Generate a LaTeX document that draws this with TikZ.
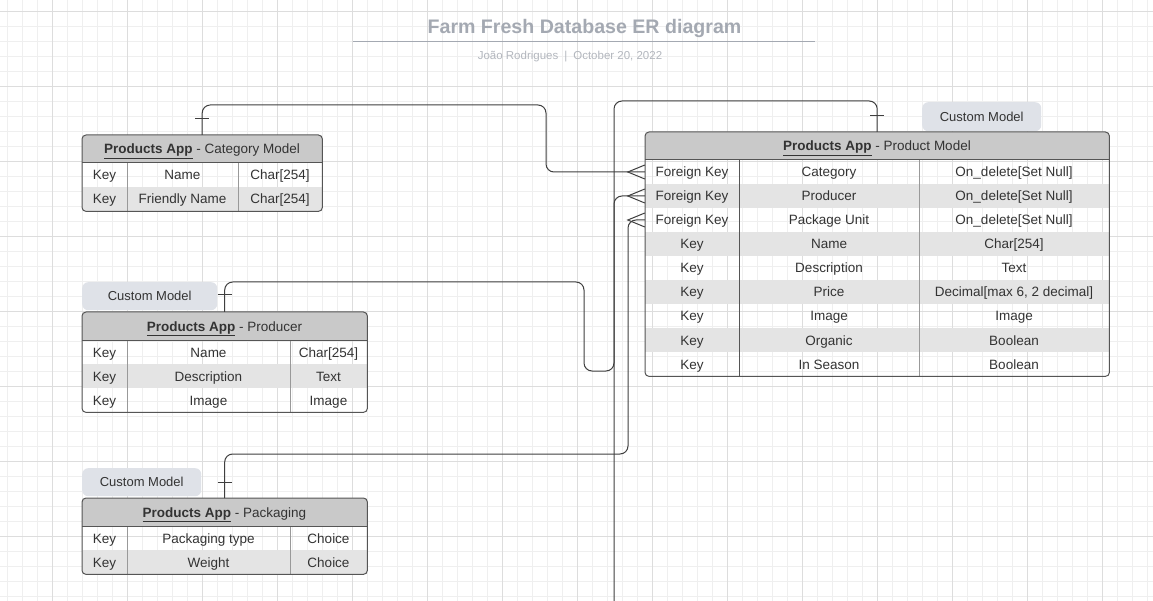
\documentclass[tikz,border=0pt]{standalone}
\usepackage{fontspec}
\setmainfont{Liberation Sans}
\definecolor{gridminor}{HTML}{EFEFEF}
\definecolor{gridmajor}{HTML}{DDDDDD}
\definecolor{titlegray}{HTML}{A4A9B2}
\definecolor{subgray}{HTML}{B3B7BE}
\definecolor{headfill}{HTML}{C9C9C9}
\definecolor{rowfill}{HTML}{E4E4E4}
\definecolor{tagfill}{HTML}{DFE2E8}
\definecolor{edge}{HTML}{555555}
\definecolor{colgray}{HTML}{999999}
\definecolor{txt}{HTML}{333333}
\definecolor{wire}{HTML}{3F3F3F}
\begin{document}
\begin{tikzpicture}[x=1pt,y=-1pt,
    cell/.style={text=txt,inner sep=0pt,text height=10pt,text depth=0pt,
      font=\fontsize{13.5}{16}\selectfont},
    tablebox/.style={inner sep=0pt,anchor=north west},
    border/.style={draw=edge,line width=1pt,rounded corners=4},
    colline/.style={draw=colgray,line width=1pt},
    headline/.style={draw=edge,line width=1pt},
    tag/.style={fill=tagfill,rounded corners=6,text=txt,inner sep=0pt,
      anchor=north west,minimum height=28,font=\fontsize{13}{15}\selectfont},
    conn/.style={draw=wire,line width=1pt},
    elbow/.style={conn,rounded corners=8}]
  % Fondo y cuadricula
  \fill[white] (0,0) rectangle (1153,601);
  \useasboundingbox (0,0) rectangle (1153,601);
  \foreach \x in {7,22,...,1153} \draw[gridminor] (\x,0) -- (\x,601);
  \foreach \y in {11,26,...,601} \draw[gridminor] (0,\y) -- (1153,\y);
  \foreach \x in {52,127,...,1153} \draw[gridmajor] (\x,0) -- (\x,601);
  \foreach \y in {11,86,...,601} \draw[gridmajor] (0,\y) -- (1153,\y);

  % Titulo
  \node[anchor=base,text=titlegray,font=\bfseries\fontsize{19.6}{24}\selectfont] (title) at (584.5,34) {Farm Fresh Database ER diagram};
  \draw[titlegray,line width=1.5pt] (353,41.5) -- (815,41.5);
  \node[anchor=base,text=subgray,font=\fontsize{11.5}{14}\selectfont] (subtitle) at (570,60) {João Rodrigues\hspace{6pt}|\hspace{6pt}October 20, 2022};

  % Etiquetas
  \node[tag,minimum width=135] (tag-producer) at (82,282) {Custom Model};
  \node[tag,minimum width=119] (tag-pack) at (82,468) {Custom Model};
  \node[tag,minimum width=119,minimum height=29] (tag-product) at (922,102) {Custom Model};

  % Category Model
  \node[tablebox,minimum width=240,minimum height=76] (cat) at (82,135) {};
  \begin{scope}
    \clip[rounded corners=4] (cat.north west) rectangle (cat.south east);
    \fill[headfill] (82,135) rectangle (322,163);
    \fill[rowfill] (82,187) rectangle (322,211);
  \end{scope}
  \draw[colline] (127,163) -- (127,211) (238,163) -- (238,211);
  \draw[headline] (82,163) -- (322,163);
  \draw[border] (cat.north west) rectangle (cat.south east);
  \node[cell] (cat-h) at (202,149) {\underline{\textbf{Products App}} - Category Model};
  \node[cell] (cat-k1) at (104.5,175) {Key};
  \node[cell] (cat-f1) at (182.5,175) {Name};
  \node[cell] (cat-t1) at (280,175) {Char[254]};
  \node[cell] (cat-k2) at (104.5,199) {Key};
  \node[cell] (cat-f2) at (182.5,199) {Friendly Name};
  \node[cell] (cat-t2) at (280,199) {Char[254]};

  % Producer
  \node[tablebox,minimum width=285,minimum height=100] (producer) at (82,312) {};
  \begin{scope}
    \clip[rounded corners=4] (producer.north west) rectangle (producer.south east);
    \fill[headfill] (82,312) rectangle (367,340);
    \fill[rowfill] (82,364) rectangle (367,388);
  \end{scope}
  \draw[colline] (127,340) -- (127,412) (290,340) -- (290,412);
  \draw[headline] (82,340) -- (367,340);
  \draw[border] (producer.north west) rectangle (producer.south east);
  \node[cell] (producer-h) at (224.5,326) {\underline{\textbf{Products App}} - Producer};
  \node[cell] (producer-k1) at (104.5,352) {Key};
  \node[cell] (producer-f1) at (208.5,352) {Name};
  \node[cell] (producer-t1) at (328.5,352) {Char[254]};
  \node[cell] (producer-k2) at (104.5,376) {Key};
  \node[cell] (producer-f2) at (208.5,376) {Description};
  \node[cell] (producer-t2) at (328.5,376) {Text};
  \node[cell] (producer-k3) at (104.5,400) {Key};
  \node[cell] (producer-f3) at (208.5,400) {Image};
  \node[cell] (producer-t3) at (328.5,400) {Image};

  % Packaging
  \node[tablebox,minimum width=285,minimum height=76] (pack) at (82,498) {};
  \begin{scope}
    \clip[rounded corners=4] (pack.north west) rectangle (pack.south east);
    \fill[headfill] (82,498) rectangle (367,526);
    \fill[rowfill] (82,550) rectangle (367,574);
  \end{scope}
  \draw[colline] (127,526) -- (127,574) (290,526) -- (290,574);
  \draw[headline] (82,526) -- (367,526);
  \draw[border] (pack.north west) rectangle (pack.south east);
  \node[cell] (pack-h) at (224.5,512) {\underline{\textbf{Products App}} - Packaging};
  \node[cell] (pack-k1) at (104.5,538) {Key};
  \node[cell] (pack-f1) at (208.5,538) {Packaging type};
  \node[cell] (pack-t1) at (328.5,538) {Choice};
  \node[cell] (pack-k2) at (104.5,562) {Key};
  \node[cell] (pack-f2) at (208.5,562) {Weight};
  \node[cell] (pack-t2) at (328.5,562) {Choice};

  % Product Model
  \node[tablebox,minimum width=464,minimum height=244] (product) at (645,132) {};
  \begin{scope}
    \clip[rounded corners=4] (product.north west) rectangle (product.south east);
    \fill[headfill] (645,132) rectangle (1109,160);
    \foreach \y in {184,232,280,328} \fill[rowfill] (645,\y) rectangle (1109,\y+24);
  \end{scope}
  \draw[headline] (739,160) -- (739,376);
  \draw[colline] (919,160) -- (919,376);
  \draw[headline] (645,160) -- (1109,160);
  \draw[border] (product.north west) rectangle (product.south east);
  \node[cell] (product-h) at (877,146) {\underline{\textbf{Products App}} - Product Model};
  \node[cell,minimum width=94] (fk1) at (692,172) {Foreign Key};
  \node[cell] (product-f1) at (829,172) {Category};
  \node[cell] (product-t1) at (1014,172) {On\_delete[Set Null]};
  \node[cell,minimum width=94] (fk2) at (692,196) {Foreign Key};
  \node[cell] (product-f2) at (829,196) {Producer};
  \node[cell] (product-t2) at (1014,196) {On\_delete[Set Null]};
  \node[cell,minimum width=94] (fk3) at (692,220) {Foreign Key};
  \node[cell] (product-f3) at (829,220) {Package Unit};
  \node[cell] (product-t3) at (1014,220) {On\_delete[Set Null]};
  \node[cell] (product-k4) at (692,244) {Key};
  \node[cell] (product-f4) at (829,244) {Name};
  \node[cell] (product-t4) at (1014,244) {Char[254]};
  \node[cell] (product-k5) at (692,268) {Key};
  \node[cell] (product-f5) at (829,268) {Description};
  \node[cell] (product-t5) at (1014,268) {Text};
  \node[cell] (product-k6) at (692,292) {Key};
  \node[cell] (product-f6) at (829,292) {Price};
  \node[cell] (product-t6) at (1014,292) {Decimal[max 6, 2 decimal]};
  \node[cell] (product-k7) at (692,316) {Key};
  \node[cell] (product-f7) at (829,316) {Image};
  \node[cell] (product-t7) at (1014,316) {Image};
  \node[cell] (product-k8) at (692,340) {Key};
  \node[cell] (product-f8) at (829,340) {Organic};
  \node[cell] (product-t8) at (1014,340) {Boolean};
  \node[cell] (product-k9) at (692,364) {Key};
  \node[cell] (product-f9) at (829,364) {In Season};
  \node[cell] (product-t9) at (1014,364) {Boolean};

  % Conectores
  \coordinate (offpage) at (614,601);
  \draw[elbow] (cat.north) |- (546,105) |- (fk1.west);
  \draw[elbow] (product.north) |- (614,101) -- (offpage);
  \draw[elbow] (producer.north) |- (584,282) |- (614,371) |- (fk2.west);
  \draw[elbow] (pack.north) |- (628,454) |- (fk3.west);
  % marcas "uno"
  \draw[conn] (cat.north) ++(-7,-16) -- ++(14,0);
  \draw[conn] (product.north) ++(-7,-16) -- ++(14,0);
  \draw[conn] (producer.north) ++(-7,-17) -- ++(14,0);
  \draw[conn] (pack.north) ++(-7,-16) -- ++(14,0);
  % patas de gallo
  \draw[conn] (fk1.west) ++(0,-7) -- ++(-17,7) -- ++(17,7);
  \draw[conn] (fk2.west) ++(0,-7) -- ++(-17,7) -- ++(17,7);
  \draw[conn] (fk3.west) ++(0,-7) -- ++(-17,7) -- ++(17,7);
\end{tikzpicture}
\end{document}
